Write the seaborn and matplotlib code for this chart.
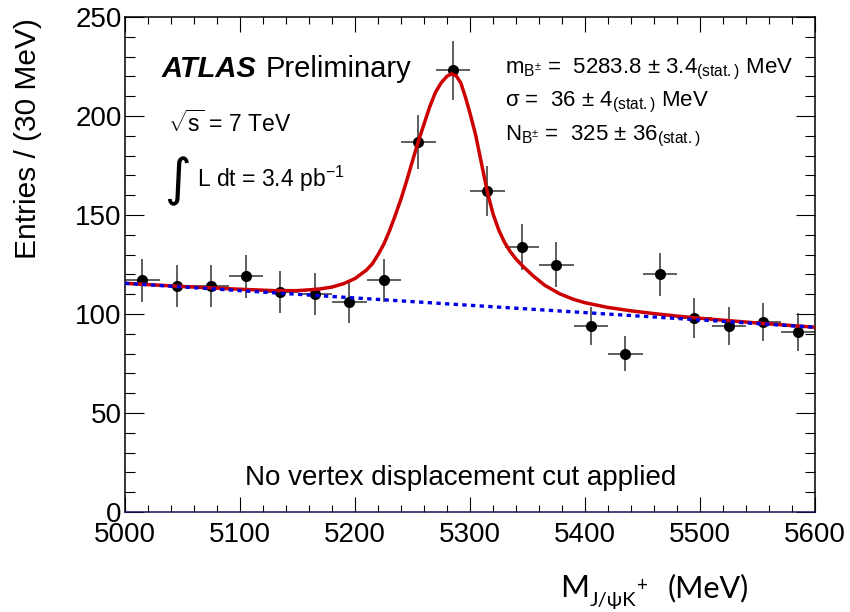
import numpy as np
import pandas as pd
import matplotlib
matplotlib.use("Agg")
import matplotlib.pyplot as plt
import seaborn as sns
from matplotlib.ticker import MultipleLocator

# ---------------- data ----------------
bin_centers = [5015, 5045, 5075, 5105, 5135, 5165, 5195, 5225, 5255, 5285,
               5315, 5345, 5375, 5405, 5435, 5465, 5495, 5525, 5555, 5585]
entries = [117, 114, 114, 119, 111, 110, 106, 117, 187, 223,
           162, 134, 125, 94, 80, 120, 98, 94, 96, 91]
bin_half_width = 15

# total fit (signal + background), sampled off the red curve
fit_x = [5000, 5050, 5100, 5130, 5150, 5160, 5170, 5180, 5190, 5200, 5210,
         5215, 5220, 5225, 5230, 5235, 5240, 5245, 5250, 5255, 5260, 5265,
         5270, 5275, 5280, 5284, 5288, 5292, 5296, 5300, 5305, 5310, 5315,
         5320, 5325, 5330, 5335, 5340, 5346, 5355, 5365, 5378, 5390, 5400,
         5420, 5440, 5460, 5480, 5500, 5550, 5600]
fit_y = [115.5, 113.9, 112.5, 111.8, 111.8, 112.2, 112.7, 113.6, 115.3, 117.9,
         122.2, 125.3, 129.9, 135.2, 142.0, 149.8, 158.1, 167.4, 177.3, 187.1,
         195.9, 204.7, 212.0, 216.8, 220.1, 221.3, 220.3, 216.7, 209.6, 201.4,
         190.2, 176.0, 161.8, 150.6, 142.4, 136.2, 131.5, 127.8, 124.1, 119.2,
         114.5, 110.2, 107.4, 105.7, 103.3, 101.6, 100.2, 98.95, 97.85, 95.45,
         93.3]

# linear background (blue dotted)
bkg_x = [5000, 5600]
bkg_y = [115.5, 93.3]

x_ticks = [5000, 5100, 5200, 5300, 5400, 5500, 5600]
y_ticks = [0, 50, 100, 150, 200, 250]

# ---------------- style ----------------
sns.set_theme(style="ticks")
plt.rcParams["font.family"] = ["Liberation Sans", "DejaVu Sans"]
plt.rcParams["mathtext.fontset"] = "custom"
plt.rcParams["mathtext.rm"] = "Liberation Sans"
plt.rcParams["mathtext.it"] = "Liberation Sans:italic"
plt.rcParams["mathtext.bf"] = "Liberation Sans:bold"
plt.rcParams["mathtext.sf"] = "Liberation Sans"
for key in ["text.color", "axes.labelcolor", "xtick.color", "ytick.color",
            "axes.edgecolor"]:
    plt.rcParams[key] = "black"

W, H = 850, 612
fig = plt.figure(figsize=(W / 100, H / 100), dpi=100)
fig.patch.set_facecolor("white")


def px(x, y):
    return x / W, 1 - y / H


ax = fig.add_axes([125 / W, 1 - 512 / H, 690 / W, 495 / H])
ax.set_facecolor("white")

df = pd.DataFrame({"mass": bin_centers, "entries": entries})
df["err"] = np.sqrt(df["entries"])

ax.errorbar(df["mass"], df["entries"], xerr=bin_half_width, yerr=df["err"],
            fmt="none", ecolor="#333333", elinewidth=1.1, capsize=0, zorder=2)
sns.scatterplot(data=df, x="mass", y="entries", color="black", s=64,
                linewidth=0, zorder=3, ax=ax, legend=False)

sns.lineplot(x=fit_x, y=fit_y, color="#cc0000", linewidth=2.5, sort=False,
             errorbar=None, ax=ax, zorder=4)
ax.lines[-1].set_solid_joinstyle("round")
sns.lineplot(x=bkg_x, y=bkg_y, color="#0000e6", linewidth=2.4, sort=False,
             errorbar=None, ax=ax, zorder=5)
ax.lines[-1].set_linestyle((0, (1.3, 1.3)))
ax.lines[-1].set_dash_capstyle("butt")

ax.set_xlim(5000, 5600)
ax.set_ylim(0, 250)
ax.set_xticks(x_ticks)
ax.set_yticks(y_ticks)
ax.xaxis.set_minor_locator(MultipleLocator(20))
ax.yaxis.set_minor_locator(MultipleLocator(10))
ax.set_xlabel("")
ax.set_ylabel("")

ax.tick_params(which="both", direction="in", top=True, right=True,
               width=0.8, color="black", labelcolor="black")
ax.tick_params(axis="x", which="major", length=10.8, pad=7, labelsize=20)
ax.tick_params(axis="x", which="minor", length=5)
ax.tick_params(axis="y", which="major", length=13.7, pad=2.5, labelsize=20)
ax.tick_params(axis="y", which="minor", length=7)
for s in ax.spines.values():
    s.set_linewidth(1.1)
    s.set_color("black")
ax.spines["bottom"].set_color("#14145a")

# ---------------- texts ----------------
fig.text(*px(162, 77), "ATLAS", fontsize=21, fontweight="bold",
         fontstyle="italic", va="baseline")
fig.text(*px(266, 77), "Preliminary", fontsize=21, va="baseline")

fig.text(*px(168, 132), r"$\sqrt{\mathrm{s}}$ = 7 TeV", fontsize=16.5,
         va="baseline")
fig.text(*px(164, 181), "∫", fontsize=37, family=["DejaVu Sans"],
         va="center", ha="left")
fig.text(*px(197, 187), r"L dt = 3.4 pb$^{\mathrm{-1}}$", fontsize=16.5,
         va="baseline")

fig.text(*px(505, 73),
         r"m$_{\mathrm{B^{\pm}}}$ =  5283.8 ± 3.4$_{\mathrm{(stat.)}}$ MeV",
         fontsize=16, va="baseline")
fig.text(*px(505, 106), r"σ =  36 ± 4$_{\mathrm{(stat.)}}$ MeV",
         fontsize=16, va="baseline")
fig.text(*px(505, 140), r"N$_{\mathrm{B^{\pm}}}$ =  325 ± 36$_{\mathrm{(stat.)}}$",
         fontsize=16, va="baseline")

fig.text(*px(461, 485), "No vertex displacement cut applied", fontsize=20,
         ha="center", va="baseline")

fig.text(*px(28, 18), "Entries / (30 MeV)", fontsize=21.5, rotation=90,
         ha="center", va="top")

# x-axis title assembled from pieces (subscript / superscript)
renderer = fig.canvas.get_renderer()
xl_family = ["Lato", "Open Sans", "DejaVu Sans"]
pieces = [("M", 22.5, 0, 0), ("J/ψK", 14.5, 9, 1), ("+", 13.5, -6, 0),
          ("(MeV)", 22, 0, 20)]
cur_x = 560
for txt, size, dy, gap in pieces:
    cur_x += gap
    t = fig.text(*px(cur_x, 597 + dy), txt, fontsize=size, family=xl_family,
                 va="baseline", ha="left")
    bb = t.get_window_extent(renderer=renderer)
    cur_x += bb.width

fig.savefig("out.png", dpi=100)
